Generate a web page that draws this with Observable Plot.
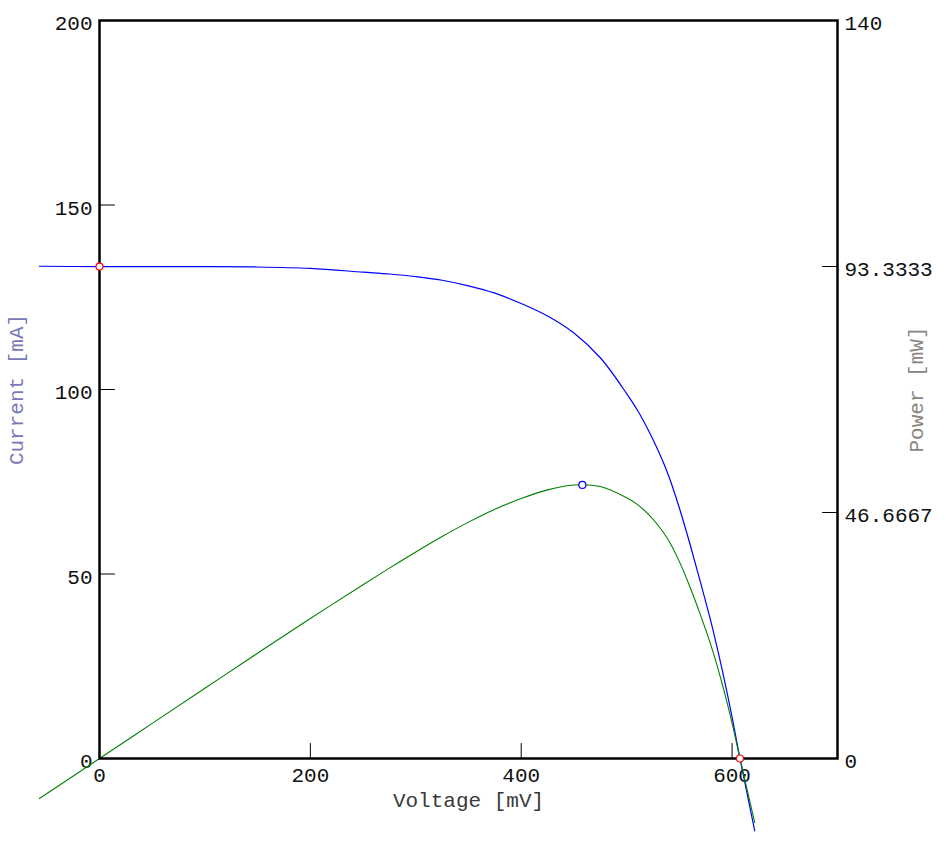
<!DOCTYPE html>
<html>
<head>
<meta charset="utf-8">
<script src="https://cdn.jsdelivr.net/npm/d3@7"></script>
<script src="https://cdn.jsdelivr.net/npm/@observablehq/plot@0.6"></script>
<style>
  html, body { margin: 0; padding: 0; background: #ffffff; }
  #chart { width: 946px; height: 846px; }
</style>
</head>
<body>
<div id="chart"></div>
<script>
// ---- data ----
const voltage = [-57, 0, 50, 100, 150, 200, 250, 275, 300, 325, 350, 375, 400, 425, 450, 475, 500, 510, 520, 530, 540, 550, 560, 570, 580, 590, 600, 607.5, 621.5];
const current = [133.4, 133.3, 133.3, 133.3, 133.2, 132.8, 131.8, 131.3, 130.6, 129.6, 128.1, 126.1, 123.3, 119.9, 115.3, 108.6, 98.9, 94.5, 89.3, 83.4, 76.5, 67.9, 58.2, 47.8, 37.0, 24.8, 11.2, 0, -19.6];
const power   = [-7.60, 0, 6.67, 13.33, 19.98, 26.56, 32.95, 36.11, 39.18, 42.12, 44.84, 47.29, 49.32, 50.96, 51.89, 51.59, 49.45, 48.20, 46.44, 44.20, 41.31, 37.35, 32.59, 27.25, 21.46, 14.63, 6.72, 0, -12.18];

const keyVoltage = [0, 607.5];      // short-circuit and open-circuit points
const keyCurrent = [133.3, 0];
const mppVoltage = [458];           // maximum power point
const mppPower = [51.9];

const xTicks = [0, 200, 400, 600];
const xTickLabels = ["0", "200", "400", "600"];
const currentTicks = [0, 50, 100, 150, 200];
const powerTicks = [0, 140 / 3, 280 / 3, 140];
const powerTickLabels = ["0", "46.6667", "93.3333", "140"];

const xLabel = "Voltage [mV]";
const yLabel = "Current [mA]";
const y2Label = "Power [mW]";

// ---- build ----
const powerMax = 140, currentMax = 200;
const k = currentMax / powerMax;   // power -> current scale
const ivData = voltage.map((v, i) => ({v, i: current[i], p: power[i]}));
const keyPts = keyVoltage.map((v, i) => ({v, i: keyCurrent[i]}));
const mppPts = mppVoltage.map((v, i) => ({v, p: mppPower[i]}));

const font = "'Courier New', 'Liberation Mono', 'DejaVu Sans Mono', monospace";
// inward tick shapes (drawn from the frame edge toward the plot interior)
const tickUp    = {draw(c, l) { c.moveTo(0, 0); c.lineTo(0, -l); }};
const tickRight = {draw(c, l) { c.moveTo(0, 0); c.lineTo(l, 0); }};
const tickLeft  = {draw(c, l) { c.moveTo(0, 0); c.lineTo(-l, 0); }};

const chart = Plot.plot({
  width: 946,
  height: 846,
  marginLeft: 99,
  marginRight: 109,
  marginTop: 20,
  marginBottom: 88,
  x: {domain: [0, 700]},
  y: {domain: [0, currentMax]},
  style: {fontFamily: font, fontSize: "21px", background: "#ffffff", color: "#000000"},
  marks: [
    // tick labels
    Plot.axisX({ticks: xTicks, tickSize: 0, tickPadding: 9, label: null,
      tickFormat: d => xTickLabels[xTicks.indexOf(d)], fontSize: 21, fill: "#111"}),
    Plot.axisY({anchor: "left", ticks: currentTicks, tickSize: 0, tickPadding: 7, label: null,
      tickFormat: d => String(d), fontSize: 21, dy: 3, fill: "#111"}),
    Plot.axisY({anchor: "right", ticks: powerTicks.map(p => p * k), tickSize: 0, tickPadding: 7, label: null,
      tickFormat: d => {
        const p = d / k;
        let best = 0;
        powerTicks.forEach((t, j) => { if (Math.abs(t - p) < Math.abs(powerTicks[best] - p)) best = j; });
        return powerTickLabels[best];
      }, fontSize: 21, dy: 3, fill: "#111"}),
    // inward tick marks
    Plot.vector(xTicks.slice(1), {x: d => d, frameAnchor: "bottom", length: 15, anchor: "start", shape: tickUp, stroke: "#000", strokeWidth: 1}),
    Plot.vector(currentTicks.slice(1, -1), {y: d => d, frameAnchor: "left", length: 15, anchor: "start", shape: tickRight, stroke: "#000", strokeWidth: 1}),
    Plot.vector(powerTicks.slice(1, -1), {y: d => d * k, frameAnchor: "right", length: 15, anchor: "start", shape: tickLeft, stroke: "#000", strokeWidth: 1}),
    // axis titles
    Plot.text([xLabel], {text: d => d, frameAnchor: "bottom", dy: 42, textAnchor: "middle", lineAnchor: "middle", fill: "#3a3a3a", fontSize: 21}),
    Plot.text([yLabel], {text: d => d, frameAnchor: "left", dx: -83, rotate: -90, textAnchor: "middle", lineAnchor: "middle", fill: "#7a78b8", fontSize: 21}),
    Plot.text([y2Label], {text: d => d, frameAnchor: "right", dx: 79, rotate: -90, textAnchor: "middle", lineAnchor: "middle", fill: "#8a847c", fontSize: 21}),
    // curves
    Plot.line(ivData, {x: "v", y: "i", stroke: "#0000ff", strokeWidth: 1.2, curve: "catmull-rom"}),
    Plot.line(ivData, {x: "v", y: d => d.p * k, stroke: "#008000", strokeWidth: 1.1, curve: "catmull-rom"}),
    Plot.frame({stroke: "#000000", strokeWidth: 2.5}),
    // markers
    Plot.dot(keyPts, {x: "v", y: "i", r: 3.5, stroke: "#ff0000", fill: "#ffffff", strokeWidth: 1.2}),
    Plot.dot(mppPts, {x: "v", y: d => d.p * k, r: 3.5, stroke: "#0000ff", fill: "#ffffff", strokeWidth: 1.2})
  ]
});

document.getElementById("chart").appendChild(chart);
</script>
</body>
</html>
